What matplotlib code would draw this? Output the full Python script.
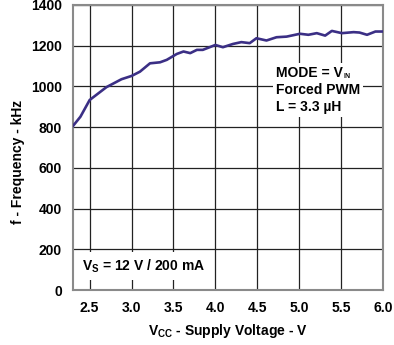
import numpy as np
import matplotlib
matplotlib.use('Agg')
import matplotlib.pyplot as plt

plt.rcParams['font.family'] = ['Liberation Sans', 'DejaVu Sans']
plt.rcParams['font.weight'] = 'bold'
plt.rcParams['axes.labelweight'] = 'bold'
plt.rcParams['mathtext.fontset'] = 'custom'
plt.rcParams['mathtext.rm'] = 'Liberation Sans:bold'
plt.rcParams['mathtext.it'] = 'Liberation Sans:bold'
plt.rcParams['mathtext.bf'] = 'Liberation Sans:bold'

# supply voltage (V) and switching frequency (kHz)
vcc = [2.30, 2.39, 2.50, 2.70, 2.88, 3.00, 3.10, 3.22, 3.34, 3.42, 3.54, 3.62,
       3.70, 3.78, 3.85, 4.00, 4.09, 4.21, 4.31, 4.41, 4.49, 4.61, 4.73, 4.85,
       5.01, 5.11, 5.21, 5.31, 5.39, 5.51, 5.65, 5.72, 5.81, 5.91, 6.00]
freq = [805, 851, 933, 996, 1035, 1051, 1072, 1113, 1118, 1130, 1159, 1171,
        1163, 1179, 1179, 1203, 1192, 1208, 1217, 1212, 1236, 1225, 1241, 1244,
        1258, 1253, 1261, 1249, 1272, 1261, 1266, 1264, 1253, 1269, 1269]

x_ticks = [2.5, 3.0, 3.5, 4.0, 4.5, 5.0, 5.5, 6.0]
y_ticks = [0, 200, 400, 600, 800, 1000, 1200, 1400]

H = 345  # figure height in px, for placing the note boxes

fig = plt.figure(figsize=(3.94, 3.45), dpi=100)
ax = fig.add_axes([0.185, 0.159, 0.787, 0.827])

ax.plot(vcc, freq, color='#3b2f85', lw=1.9, zorder=3)

ax.set_xlim(2.3, 6.0)
ax.set_ylim(0, 1400)
ax.set_xticks(x_ticks)
ax.set_xticklabels([f'{t:.1f}' for t in x_ticks])
ax.set_yticks(y_ticks)
ax.grid(True, color='#222222', lw=0.9)
ax.tick_params(length=0, pad=8, labelsize=10)
for s in ax.spines.values():
    s.set_color('#8a8a8a')
    s.set_linewidth(1.5)

ax.set_xlabel('V$_{CC}$ - Supply Voltage - V', fontsize=10, labelpad=5)
ax.set_ylabel('f - Frequency - kHz', fontsize=10, labelpad=2)
ax.yaxis.set_label_coords(-0.155, 0.45)

box = dict(facecolor='white', edgecolor='none', pad=2)
ax.text(276, H - 73, 'MODE = V', transform=None, fontsize=10,
        va='center', ha='left', bbox=box, zorder=4)
ax.text(344, H - 77, 'IN', transform=None, fontsize=5,
        va='center', ha='left', zorder=5)
ax.text(276, H - 90, 'Forced PWM', fontsize=10, va='center', ha='left',
        bbox=box, zorder=4, transform=None)
ax.text(276, H - 107, 'L = 3.3 \u00b5H', fontsize=10, va='center', ha='left',
        bbox=box, zorder=4, transform=None)

ax.text(82, H - 266, 'V$_S$ = 12 V / 200 mA', fontsize=10, va='center', ha='left',
        bbox=dict(facecolor='white', edgecolor='none', pad=4), zorder=4,
        transform=None)

fig.savefig('out.png', dpi=100)
